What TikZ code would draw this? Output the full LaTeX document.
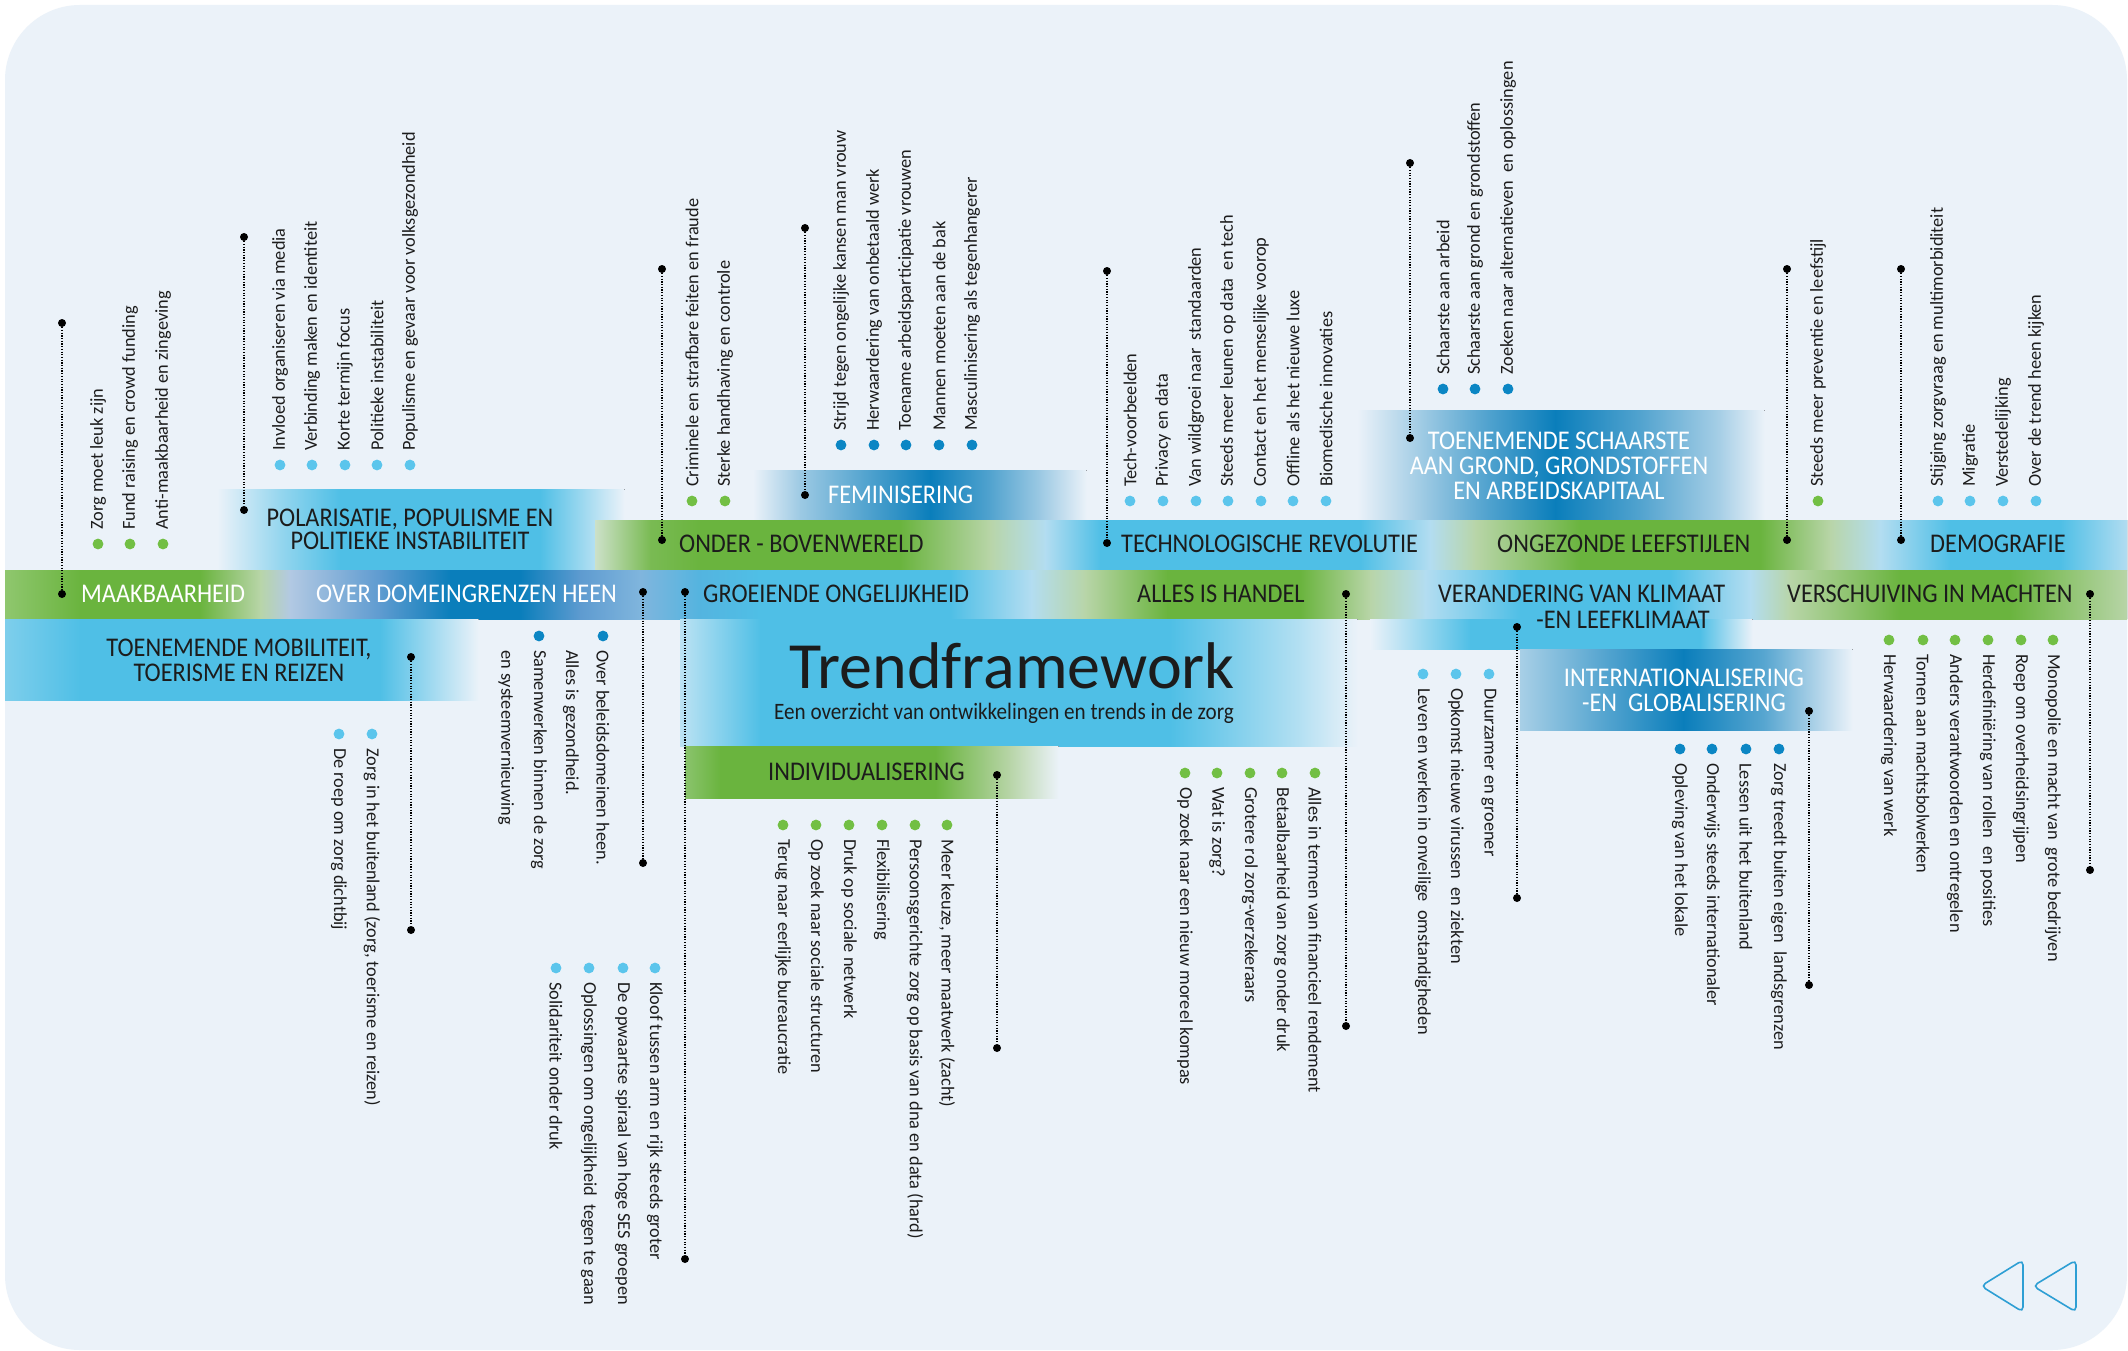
\documentclass[tikz,border=0pt]{standalone}
\usepackage{fontspec}
\setmainfont{Carlito}
\newfontfamily\lblfont{Carlito}[FakeStretch=0.9]
\definecolor{bgc}{HTML}{EBF2F9}
\definecolor{G}{HTML}{6AB43E}
\definecolor{LG}{HTML}{B8D5A8}
\definecolor{LB}{HTML}{4FBFE6}
\definecolor{PB}{HTML}{B3DDF1}
\definecolor{DB}{HTML}{0A7EBB}
\definecolor{MB}{HTML}{5E9BD0}
\definecolor{PDB}{HTML}{B2C9E3}
\definecolor{txt}{HTML}{1C1C1C}
\definecolor{bG}{HTML}{72BF44}
\definecolor{bL}{HTML}{5BC5EC}
\definecolor{bD}{HTML}{0B86C4}
\definecolor{tri}{HTML}{2E9FD4}
\newcommand{\gband}[3]{%
  \foreach \xx/\cc [remember=\xx as \px (initially -1), remember=\cc as \pc (initially bgc)] in {#3}{%
    \ifdim\px pt>-0.5pt
      \fill[left color=\pc, right color=\cc] (\px,#1) rectangle ({\xx+0.7},#2);
    \fi
  }}
\newcommand{\upitems}[3]{%
  \foreach \xx/\tx in {#3}{%
    \fill[#1] (\xx,#2) circle (5.4);
    \node[itemtxt,rotate=90,anchor=west] (u\xx) at (\xx,#2-14) {\tx};
  }}
\newcommand{\downitems}[3]{%
  \foreach \xx/\tx in {#3}{%
    \fill[#1] (\xx,#2) circle (5.4);
    \node[itemtxt,rotate=-90,anchor=west] (d\xx) at (\xx,#2+14) {\tx};
  }}
\begin{document}
\begin{tikzpicture}[x=1pt,y=-1pt,
  itemtxt/.style={font=\fontsize{18.3}{20}\selectfont, text=txt, inner sep=0pt},
  bandlbl/.style={font=\lblfont\fontsize{27}{25}\selectfont, text=txt, inner sep=0pt, align=center},
  whitelbl/.style={bandlbl, text=white},
  dotnode/.style={circle, fill=black, inner sep=0pt, minimum size=8pt},
  conn/.style={black, line width=1.1pt, dash pattern=on 1.2pt off 1.5pt}]
\useasboundingbox (0,0) rectangle (2128,1351);
\fill[white] (0,0) rectangle (2128,1351);
\begin{scope}
\clip[rounded corners=75] (5,5) rectangle (2127,1350);
\fill[bgc] (0,0) rectangle (2128,1351);
% upper boxes
\gband{489}{570}{217/bgc, 280/LB!55!bgc, 340/LB, 540/LB, 624/bgc}
\gband{470}{520}{753/bgc, 800/DB!35!bgc, 860/DB!65!bgc, 930/DB, 990/DB!68!bgc, 1040/DB!35!bgc, 1086/bgc}
\gband{410}{520}{1357/bgc, 1420/DB!33!bgc, 1480/DB!65!bgc, 1555/DB, 1640/DB!68!bgc, 1720/DB!30!bgc, 1764/bgc}
% upper row
\gband{520}{570}{595/LG!60!bgc, 650/G!80!LG, 700/G, 900/G, 990/LG, 1045/PB, 1100/LB, 1360/LB, 1430/PB, 1475/LG, 1580/G, 1760/G, 1830/LG, 1880/PB, 1950/LB, 2060/LB, 2128/PB}
% central row
\gband{570}{619}{5/G!75!white, 80/G, 200/G, 260/LG, 290/PDB, 380/MB, 450/DB, 520/DB, 580/MB, 640/MB!60!PB, 700/LB!70!MB, 760/LB, 950/LB, 1031/PB, 1085/LG, 1167/G, 1300/G, 1370/LG, 1425/PB, 1520/LB, 1670/LB, 1750/PB, 1790/LG, 1900/G, 2010/G, 2128/LG}
% lower boxes
\gband{619}{700}{5/LB!70!bgc, 80/LB, 380/LB, 478/bgc}
\gband{619}{746}{680/LB!30!bgc, 760/LB, 1170/LB, 1300/LB!35!bgc, 1357/bgc}
\gband{746}{798}{685/G!75!bgc, 720/G, 935/G, 1010/LG, 1058/bgc}
\gband{619}{649}{1370/bgc, 1470/LB, 1700/LB, 1752/bgc}
\gband{649}{730}{1520/DB!30!bgc, 1600/DB!65!bgc, 1683/DB, 1765/DB!65!bgc, 1852/bgc}
\end{scope}
% band labels
\node[whitelbl,anchor=west] (maak) at (81,594) {MAAKBAARHEID};
\node[whitelbl,anchor=west] (over) at (316,594) {OVER DOMEINGRENZEN HEEN};
\node[bandlbl,anchor=west] (groei) at (703,594) {GROEIENDE ONGELIJKHEID};
\node[bandlbl,anchor=west] (alles) at (1137,594) {ALLES IS HANDEL};
\node[bandlbl,anchor=west] (veran) at (1438,594) {VERANDERING VAN KLIMAAT};
\node[bandlbl,anchor=east] (veran2) at (1710,620) {-EN LEEFKLIMAAT};
\node[bandlbl,anchor=west] (versch) at (1787,594) {VERSCHUIVING IN MACHTEN};
\node[bandlbl,anchor=west] (onder) at (679,544) {ONDER - BOVENWERELD};
\node[bandlbl,anchor=west] (tech) at (1121,544) {TECHNOLOGISCHE REVOLUTIE};
\node[bandlbl,anchor=west] (ongez) at (1497,544) {ONGEZONDE LEEFSTIJLEN};
\node[bandlbl,anchor=west] (demo) at (1930,544) {DEMOGRAFIE};
\node[bandlbl,font=\lblfont\fontsize{27}{23}\selectfont] (polar) at (410,529) {POLARISATIE, POPULISME EN\\POLITIEKE INSTABILITEIT};
\node[whitelbl,anchor=west] (femi) at (828,495) {FEMINISERING};
\node[whitelbl] (schaar) at (1559,466) {TOENEMENDE SCHAARSTE\\AAN GROND, GRONDSTOFFEN\\EN ARBEIDSKAPITAAL};
\node[bandlbl] (mobi) at (239,660) {TOENEMENDE MOBILITEIT,\\TOERISME EN REIZEN};
\node[bandlbl,anchor=west] (indiv) at (768,772) {INDIVIDUALISERING};
\node[whitelbl] (inter) at (1684,690) {INTERNATIONALISERING\\-EN\ \ GLOBALISERING};
\node[font=\fontsize{66}{70}\selectfont, text=txt, inner sep=0pt] (title) at (1012,666) {Trendframework};
\node[font=\lblfont\fontsize{23.5}{24}\selectfont, text=txt, inner sep=0pt] (sub) at (1004,713) {Een overzicht van ontwikkelingen en trends in de zorg};
% items above
\upitems{bG}{544}{98/Zorg moet leuk zijn, 130/Fund raising en crowd funding, 163/Anti-maakbaarheid en zingeving}
\upitems{bL}{465}{280/Invloed organiseren via media, 312/Verbinding maken en identiteit, 345/Korte termijn focus, 377/Politieke instabiliteit, 410/Populisme en gevaar voor volksgezondheid}
\upitems{bG}{501}{692/Criminele en strafbare feiten en fraude, 725/Sterke handhaving en controle}
\upitems{bD}{445}{841/Strijd tegen ongelijke kansen man vrouw, 874/Herwaardering van onbetaald werk, 906/Toename arbeidsparticipatie vrouwen, 939/Mannen moeten aan de bak, 972/Masculinisering als tegenhangerer}
\upitems{bL}{501}{1130/Tech-voorbeelden, 1163/Privacy en data, 1196/Van wildgroei naar\ \ standaarden, 1228/Steeds meer leunen op data\ \ en tech, 1261/Contact en het menselijke voorop, 1293/Offline als het nieuwe luxe, 1326/Biomedische innovaties}
\upitems{bD}{389}{1443/Schaarste aan arbeid, 1475/Schaarste aan grond en grondstoffen, 1508/Zoeken naar alternatieven\ \ en oplossingen}
\upitems{bG}{501}{1818/Steeds meer preventie en leefstijl}
\upitems{bL}{501}{1938/Stijging zorgvraag en multimorbiditeit, 1970/Migratie, 2003/Verstedelijking, 2036/Over de trend heen kijken}
% items below
\downitems{bL}{734}{372/{Zorg in het buitenland (zorg, toerisme en reizen)}, 339/De roep om zorg dichtbij}
\fill[bD] (603,636) circle (5.4);
\fill[bD] (539,636) circle (5.4);
\node[itemtxt,rotate=-90,anchor=west] (d603) at (603,650) {Over beleidsdomeinen heen.};
\node[itemtxt,rotate=-90,anchor=west] (d571) at (571,650) {Alles is gezondheid.};
\node[itemtxt,rotate=-90,anchor=west] (d539) at (539,650) {Samenwerken binnen de zorg};
\node[itemtxt,rotate=-90,anchor=west] (d506) at (506,650) {en systeemvernieuwing};
\downitems{bL}{968}{655/Kloof tussen arm en rijk steeds groter, 623/De opwaartse spiraal van hoge SES groepen, 589/Oplossingen om ongelijkheid\ \ tegen te gaan, 556/Solidariteit onder druk}
\downitems{bG}{825}{947/{Meer keuze, meer maatwerk (zacht)}, 915/Persoonsgerichte zorg op basis van dna en data (hard), 882/Flexibilisering, 849/Druk op sociale netwerk, 816/Op zoek naar sociale structuren, 783/Terug naar eerlijke bureaucratie}
\downitems{bG}{773}{1315/Alles in termen van financieel rendement, 1282/Betaalbaarheid van zorg onder druk, 1250/Grotere rol zorg-verzekeraars, 1217/Wat is zorg?, 1185/Op zoek naar een nieuw moreel kompas}
\downitems{bL}{674}{1489/Duurzamer en groener, 1456/Opkomst nieuwe virussen\ \ en ziekten, 1423/Leven en werken in onveilige\ \ omstandigheden}
\downitems{bD}{749}{1779/Zorg treedt buiten eigen\ \ landsgrenzen, 1746/Lessen uit het buitenland, 1712/Onderwijs steeds internationaler, 1680/Opleving van het lokale}
\downitems{bG}{640}{2053/Monopolie en macht van\ \ grote bedrijven, 2021/Roep om overheidsingrijpen, 1988/Herdefiniëring van rollen\ \ en posities, 1955/Anders verantwoorden en ontregelen, 1923/Tornen aan machtsbolwerken, 1889/Herwaardering van werk}
% connectors
\foreach \i/\xx/\ya/\yb in {1/62/323/594, 2/244/237/510, 3/662/269/540, 4/805/228/495, 5/1107/271/543, 6/1410/163/438, 7/1787/269/540, 8/1901/269/540, 9/411/657/930, 10/643/592/863, 11/685/592/1259, 12/997/775/1048, 13/1346/594/1026, 14/1517/627/898, 15/1809/711/985, 16/2090/594/870}{
  \node[dotnode] (t\i) at (\xx,\ya) {};
  \node[dotnode] (b\i) at (\xx,\yb) {};
  \draw[conn] (t\i) -- (b\i);
}
% navigation triangles
\draw[tri, line width=1.6pt, rounded corners=5] (2023,1260) -- (2023,1312) -- (1981,1286) -- cycle;
\draw[tri, line width=1.6pt, rounded corners=5] (2076,1260) -- (2076,1312) -- (2033,1286) -- cycle;
\end{tikzpicture}
\end{document}
